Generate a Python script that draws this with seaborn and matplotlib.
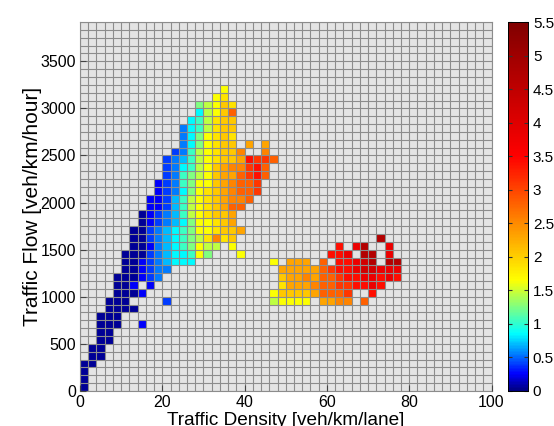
import numpy as np
import matplotlib
matplotlib.use('Agg')
import matplotlib.pyplot as plt
from matplotlib.colors import LinearSegmentedColormap
import seaborn as sns

# colour levels used in the grid below
level_values = {
    '0': 0.05, '1': 0.25, '2': 0.4, '3': 0.55, '4': 0.7, '5': 0.85,
    '6': 1.05, '7': 1.25, '8': 1.45, '9': 1.65, 'a': 1.85, 'b': 2.05,
    'c': 2.3, 'd': 2.55, 'e': 2.8, 'f': 3.1, 'g': 3.4, 'h': 3.8,
    'i': 4.2, 'j': 4.7, 'k': 5.2,
}

# one string per flow bin (lowest first), one char per density bin of 2 veh/km
grid_rows = [
    "0",
    "0",
    "0",
    "00",
    ".00",
    ".00",
    "..00",
    "..00",
    "..000..1",
    "..000",
    "...0000",
    "...000.... 2......... ...89999.c cdd.e",
    "....0001.. .......... ...9bbbbce eef..g",
    "....001.1. .......... ....acccde effgghg",
    "....000123 .......... ....bccdce efgghhghg",
    ".....00123 3......... ....ccccce fgghiihhh",
    ".....00123 4555...... ...9.ccc.e .gghij.jj",
    ".....00023 455697...9 .......... ggh.jj.h",
    "......0013 4567988.9. .......... .g.hj..h",
    "......0023 45678adab. .......... ......j",
    "......0023 456799abbc",
    ".......012 345799abc.",
    ".......012 34689abbc.",
    "........11 24689abcee",
    "........11 24689abcdd e",
    ".........1 23579abcde ef",
    ".........1 236799bcde ef",
    ".......... 236789bcce fge",
    ".......... 235689bcdd fge",
    ".......... 234689abbc gffe",
    ".......... .23689abbd ..d",
    ".......... ..3579abb. c.c",
    ".......... ..3579aba.",
    ".......... ..3568abb.",
    ".......... ...568abb.",
    ".......... ....589be.",
    ".......... ....789ba.",
    ".......... ......9a",
    ".......... .......9",
]

x_ticks = [0, 20, 40, 60, 80, 100]
y_ticks = [0, 500, 1000, 1500, 2000, 2500, 3000, 3500]
cbar_ticks = [0, 0.5, 1, 1.5, 2, 2.5, 3, 3.5, 4, 4.5, 5, 5.5]

dx = 2.0          # density bin
dy = 500 / 6      # flow bin
n_cols, n_rows = 50, 47
y_top = 3844

z = np.full((n_rows, n_cols), np.nan)
for r, line in enumerate(grid_rows):
    for c, ch in enumerate(line.replace(' ', '')):
        if ch != '.':
            z[r, c] = level_values[ch]

# jet-like map, squeezed the way the reference colour bar is
cmap = LinearSegmentedColormap.from_list('jetish', [
    (0.0, '#000080'), (0.25 / 5.5, '#0000ff'), (0.85 / 5.5, '#00ffff'),
    (1.25 / 5.5, '#80ff80'), (1.65 / 5.5, '#ffff00'), (3.5 / 5.5, '#ff0000'),
    (1.0, '#800000')])

plt.rcParams['font.family'] = ['Liberation Sans', 'DejaVu Sans']

fig = plt.figure(figsize=(5.54, 4.26), dpi=100)
ax = fig.add_axes([80 / 554, 35 / 426, 411.5 / 554, 369 / 426])
cax = fig.add_axes([508 / 554, 35 / 426, 20 / 554, 369 / 426])

sns.heatmap(z, ax=ax, cmap=cmap, vmin=0, vmax=5.5, cbar_ax=cax,
            cbar_kws={'ticks': cbar_ticks}, xticklabels=False, yticklabels=False)
ax.invert_yaxis()
ax.set_facecolor('#e4e4e4')
ax.set_xlim(0, n_cols)
ax.set_ylim(0, y_top / dy)

ax.set_xticks([t / dx for t in x_ticks])
ax.set_xticklabels([str(t) for t in x_ticks], fontsize=11.5)
ax.set_yticks([t / dy for t in y_ticks])
ax.set_yticklabels([str(t) for t in y_ticks], fontsize=11.5, rotation=0)
ax.set_xticks(np.arange(0, n_cols + 1), minor=True)
ax.set_yticks(np.arange(0, n_rows + 1), minor=True)
ax.grid(which='both', color='#8c8c8c', linewidth=0.8)
ax.set_axisbelow(False)
ax.tick_params(which='major', direction='in', length=4, color='#444444', pad=3)
ax.tick_params(which='minor', length=0)
for s in ax.spines.values():
    s.set_visible(True)
    s.set_color('#8c8c8c')

ax.set_xlabel('Traffic Density [veh/km/lane]', fontsize=13.7, labelpad=1)
ax.set_ylabel('Traffic Flow [veh/km/hour]', fontsize=15, labelpad=-1)

cax.set_yticklabels([f'{t:g}' for t in cbar_ticks], fontsize=11)
cax.tick_params(direction='in', length=3, left=True, right=True, color='#333333')
for s in cax.spines.values():
    s.set_visible(True)
    s.set_linewidth(0.6)

fig.savefig('out.png', dpi=100)
